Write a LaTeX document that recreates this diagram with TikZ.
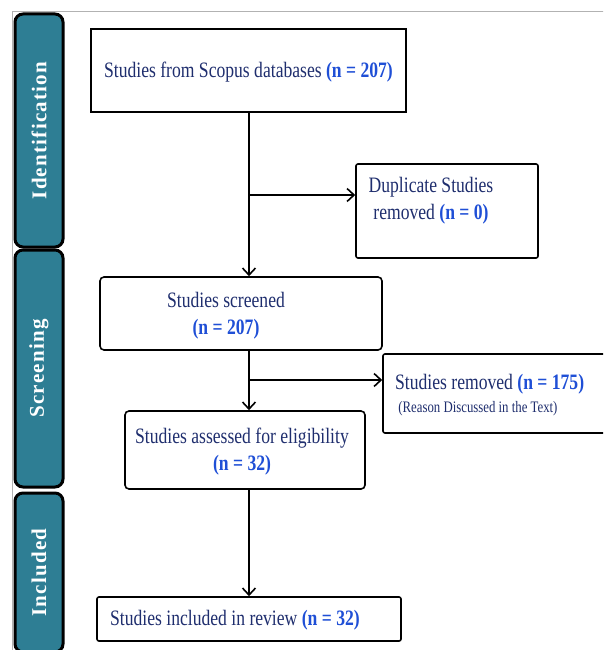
\documentclass[tikz,border=0pt]{standalone}
\usepackage{fontspec}
\setmainfont[FakeStretch=0.8]{Liberation Serif}
\newfontfamily\barfont[LetterSpace=6, BoldFont={Liberation Serif Bold}]{Liberation Serif}
\usetikzlibrary{arrows.meta}

\definecolor{barteal}{HTML}{2E7E94}
\definecolor{textnavy}{HTML}{1F2E6E}
\definecolor{countblue}{HTML}{1F4FD6}

\newcommand{\cnt}[1]{{\bfseries\color{countblue}#1}}

\tikzset{
  stagebar/.style={draw=black, line width=3pt, fill=barteal, rounded corners=8pt, rotate=90,
    minimum height=48pt, inner sep=0pt, text=white, font=\barfont\bfseries\fontsize{21}{21}\selectfont},
  stepbox/.style={draw=black, line width=1.6pt, fill=white, inner sep=0pt},
  steptext/.style={text=textnavy, font=\fontsize{22}{27}\selectfont, inner sep=0pt},
  flow/.style={line width=1.6pt, -{Straight Barb[length=7pt,width=13pt,line width=1.6pt]}},
}

\begin{document}
\begin{tikzpicture}[x=1pt, y=-1pt]
    \useasboundingbox (0,0) rectangle (603,650);
    \clip (0,0) rectangle (603,650);

    % Outer frame
    \draw[gray!60, line width=1pt] (12,12) rectangle (640,690);

    % Stage bars on the left
    \node[stagebar, minimum width=233pt] (ident) at (39,130.5) {Identification};
    \node[stagebar, minimum width=237pt] (screen) at (39,368.5) {Screening};
    \node[stagebar, minimum width=159pt] (incl) at (39,572.5) {Included};

    % Boxes
    \node[stepbox, minimum width=315pt, minimum height=83pt] (src) at (248.5,70.5) {};
    \node[stepbox, rounded corners=2pt, minimum width=182pt, minimum height=94pt] (dup) at (447,211) {};
    \node[stepbox, rounded corners=4pt, minimum width=282pt, minimum height=73pt] (scr) at (241,313.5) {};
    \node[stepbox, rounded corners=2pt, minimum width=232pt, minimum height=79pt] (rem) at (499,393.5) {};
    \node[stepbox, rounded corners=4pt, minimum width=240pt, minimum height=78pt] (elig) at (245,450) {};
    \node[stepbox, rounded corners=2pt, minimum width=304pt, minimum height=44pt] (inc) at (249,619) {};

    % Box texts
    \node[steptext] (srct) at (248.5,72) {Studies from Scopus databases \cnt{(n = 207)}};
    \node[steptext, align=center] (dupt) at (431,201) {Duplicate Studies\\ removed \cnt{(n = 0)}};
    \node[steptext, align=center] (scrt) at (226,316) {Studies screened\\\cnt{(n = 207)}};
    \node[steptext, align=left, anchor=west] (remt) at (395,395)
        {Studies removed \cnt{(n = 175)}\\[-4pt]{\fontsize{16}{16}\selectfont\ (Reason Discussed in the Text)}};
    \node[steptext, align=center] (eligt) at (242,452) {Studies assessed for eligibility\\\cnt{(n = 32)}};
    \node[steptext, anchor=west] (inct) at (110,620) {Studies included in review \cnt{(n = 32)}};

    % Connectors
    \coordinate (spine) at (249,0);
    \coordinate (fork1) at (249,195);
    \coordinate (fork2) at (249,380);
    \draw[flow] (spine |- src.south) -- (spine |- scr.north);
    \draw[flow] (fork1) -- (fork1 -| dup.west);
    \draw[flow] (spine |- scr.south) -- (spine |- elig.north);
    \draw[flow] (fork2) -- (fork2 -| rem.west);
    \draw[flow] (spine |- elig.south) -- (spine |- inc.north);

\end{tikzpicture}
\end{document}
